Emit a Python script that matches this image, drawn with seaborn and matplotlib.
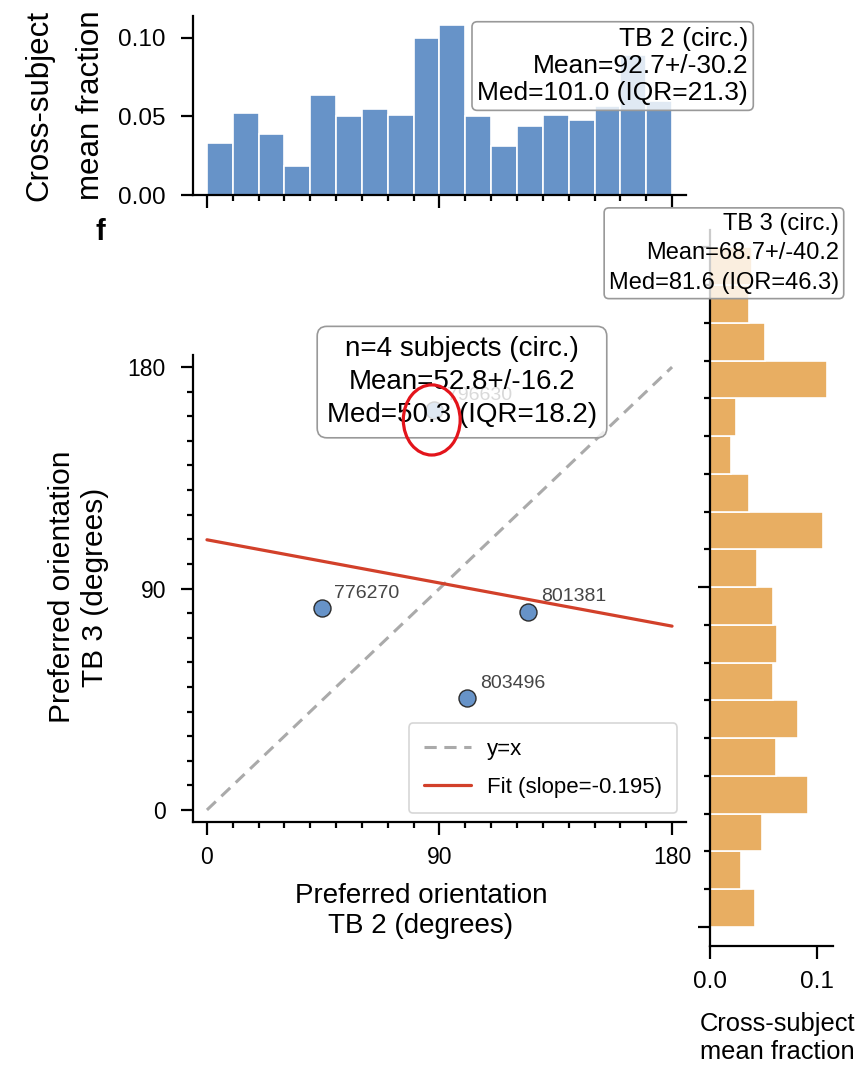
import numpy as np
import pandas as pd
import matplotlib
matplotlib.use("Agg")
import matplotlib.pyplot as plt
from matplotlib.patches import Ellipse
from matplotlib.ticker import MultipleLocator
import seaborn as sns

# Orientation bins (degrees)
bin_width = 10
bin_range = (0, 180)
bin_centers = np.arange(5, 180, bin_width)

# Cross-subject mean fraction per 10-degree bin
tb2_fraction = [0.033, 0.052, 0.039, 0.0185, 0.064, 0.050, 0.055, 0.051, 0.100,
                0.108, 0.050, 0.031, 0.044, 0.051, 0.048, 0.057, 0.089, 0.060]
tb3_fraction = [0.042, 0.029, 0.049, 0.0916, 0.062, 0.082, 0.0585, 0.0626, 0.059,
                0.044, 0.106, 0.0365, 0.020, 0.024, 0.109, 0.051, 0.0365, 0.039]

# Per-subject preferred orientations
subjects = ["776270", "796630", "801381", "803496"]
tb2_pref = [44.5, 88.0, 124.3, 100.7]
tb3_pref = [82.1, 162.5, 80.5, 45.5]

# Linear fit across subjects
fit_slope = -0.195
fit_intercept = 109.8

tb2_stats = "TB 2 (circ.)\nMean=92.7+/-30.2\nMed=101.0 (IQR=21.3)"
tb3_stats = "TB 3 (circ.)\nMean=68.7+/-40.2\nMed=81.6 (IQR=46.3)"
pair_stats = "n=4 subjects (circ.)\nMean=52.8+/-16.2\nMed=50.3 (IQR=18.2)"

BLUE = "#6793c8"
ORANGE = "#e8ae62"
RED = "#d2402a"
GRAY = "#aaaaaa"

sns.set_theme(style="ticks")
plt.rcParams["font.family"] = ["Liberation Sans", "DejaVu Sans"]
plt.rcParams.update({"text.color": "black", "axes.labelcolor": "black",
                     "xtick.color": "black", "ytick.color": "black"})

W, H = 861, 1070
fig = plt.figure(figsize=(W / 100, H / 100), dpi=100)


def px_axes(left, top, right, bottom):
    return fig.add_axes([left / W, 1 - bottom / H, (right - left) / W, (bottom - top) / H])


ax_top = px_axes(193, 16, 686, 195)
ax_sc = px_axes(193, 355, 686, 822)
ax_rt = px_axes(710, 230, 833, 946)
for a in (ax_top, ax_sc, ax_rt):
    a.set_facecolor("none")

tick_kw = dict(width=1.6, color="black", labelcolor="black")
box_kw = dict(facecolor=(1, 1, 1, 0.8), edgecolor="#999999", linewidth=1.2)

hist_df = pd.DataFrame({
    "center": bin_centers.astype(float),
    "tb2": np.asarray(tb2_fraction, dtype=float),
    "tb3": np.asarray(tb3_fraction, dtype=float),
})

# ---- top marginal histogram (TB 2) ----
sns.histplot(data=hist_df, x="center", weights="tb2", binwidth=bin_width, binrange=bin_range,
             ax=ax_top, color=BLUE, alpha=1, edgecolor="white", linewidth=1.2)
ax_top.set_xlim(-5.4, 185.4)
ax_top.set_ylim(0, 0.114)
ax_top.set_yticks([0, 0.05, 0.10])
ax_top.set_yticklabels(["0.00", "0.05", "0.10"])
ax_top.xaxis.set_major_locator(MultipleLocator(90))
ax_top.xaxis.set_minor_locator(MultipleLocator(10))
ax_top.tick_params(axis="x", which="major", length=9, labelbottom=False, **tick_kw)
ax_top.tick_params(axis="x", which="minor", length=4.5, **tick_kw)
ax_top.tick_params(axis="y", length=9, labelsize=17.5, pad=10.5, **tick_kw)
ax_top.set_ylabel("Cross-subject\nmean fraction", fontsize=22.5, linespacing=1.95)
ax_top.yaxis.set_label_coords(-0.176, 0.5)
ax_top.set_xlabel("")
ax_top.text(1.1258, 0.9385, tb2_stats, transform=ax_top.transAxes, ha="right", va="top",
            fontsize=19, multialignment="right", linespacing=1.16, clip_on=False, zorder=10,
            bbox=dict(boxstyle="round,pad=0.2", **box_kw))

# ---- scatter of preferred orientations ----
df = pd.DataFrame({"tb2": tb2_pref, "tb3": tb3_pref, "subject": subjects})
fit_x = np.array([0.0, 180.0])
ax_sc.plot([0, 180], [0, 180], color=GRAY, linestyle="--", linewidth=2.2,
           dashes=(4, 2.5), label="y=x", zorder=1)
sns.lineplot(x=fit_x, y=fit_intercept + fit_slope * fit_x, ax=ax_sc, color=RED, linewidth=2.3,
             label=f"Fit (slope={fit_slope:.3f})", zorder=2)
sns.scatterplot(data=df, x="tb2", y="tb3", ax=ax_sc, s=150, color=BLUE, edgecolor="#2b2b2b",
                linewidth=1.0, zorder=3, legend=False)
for sx, sy, name in zip(tb2_pref, tb3_pref, subjects):
    ax_sc.annotate(name, (sx, sy), xytext=(9, 7.5), textcoords="offset points",
                   ha="left", va="baseline", fontsize=14, color="#454545", zorder=3)

hidden = subjects.index("796630")
ax_sc.add_patch(Ellipse((tb2_pref[hidden] - 1, tb3_pref[hidden] - 4), 22, 28.5, fill=False,
                        edgecolor="#e3141b", linewidth=2.3, zorder=12, clip_on=False))

ax_sc.text(0.5456, 0.942, pair_stats, transform=ax_sc.transAxes, ha="center", va="center",
           fontsize=20, multialignment="center", linespacing=1.35, zorder=8, clip_on=False,
           bbox=dict(boxstyle="round,pad=0.35", **box_kw))

ax_sc.set_xlim(-5.4, 185.4)
ax_sc.set_ylim(-4.9, 184.9)
for axis in (ax_sc.xaxis, ax_sc.yaxis):
    axis.set_major_locator(MultipleLocator(90))
    axis.set_minor_locator(MultipleLocator(10))
ax_sc.tick_params(which="major", length=9, labelsize=16.5, pad=8, **tick_kw)
ax_sc.tick_params(axis="y", which="major", pad=10.5)
ax_sc.tick_params(which="minor", length=4.5, **tick_kw)
ax_sc.set_xlabel("Preferred orientation\nTB 2 (degrees)", fontsize=20, linespacing=1.2)
ax_sc.xaxis.set_label_coords(0.4625, -0.13)
ax_sc.xaxis.label.set_va("top")
ax_sc.set_ylabel("Preferred orientation\nTB 3 (degrees)", fontsize=21.5, linespacing=1.25)
ax_sc.yaxis.set_label_coords(-0.17, 0.503)
leg = ax_sc.legend(loc="lower right", handlelength=2.1,
                   handletextpad=0.7, labelspacing=0.75, borderpad=0.7, borderaxespad=0.4,
                   frameon=True, fontsize=16)
leg.get_frame().set_edgecolor("#cccccc")
leg.get_frame().set_linewidth(1.2)

# ---- right marginal histogram (TB 3) ----
sns.histplot(data=hist_df, y="center", weights="tb3", binwidth=bin_width, binrange=bin_range,
             ax=ax_rt, color=ORANGE, alpha=1, edgecolor="white", linewidth=1.2)
ax_rt.set_ylim(-5.05, 184.6)
ax_rt.set_xlim(0, 0.115)
ax_rt.set_xticks([0, 0.1])
ax_rt.set_xticklabels(["0.0", "0.1"])
ax_rt.yaxis.set_major_locator(MultipleLocator(90))
ax_rt.yaxis.set_minor_locator(MultipleLocator(10))
ax_rt.tick_params(axis="y", which="major", length=9, labelleft=False, **tick_kw)
ax_rt.tick_params(axis="y", which="minor", length=4.5, **tick_kw)
ax_rt.tick_params(axis="x", length=9, labelsize=17.5, pad=9, **tick_kw)
ax_rt.set_ylabel("")
ax_rt.set_xlabel("Cross-subject\nmean fraction", fontsize=18.4, linespacing=1.2)
ax_rt.xaxis.set_label_coords(0.545, -0.092)
ax_rt.xaxis.label.set_va("top")
ax_rt.text(1.0488, 1.0243, tb3_stats, transform=ax_rt.transAxes, ha="right", va="top",
           fontsize=17, multialignment="right", linespacing=1.45, clip_on=False, zorder=10,
           bbox=dict(boxstyle="round,pad=0.2", **box_kw))

for a in (ax_top, ax_sc, ax_rt):
    sns.despine(ax=a)
    for s in ("left", "bottom"):
        a.spines[s].set_linewidth(1.6)
        a.spines[s].set_color("black")

fig.text(100 / W, 1 - 232 / H, "f", ha="center", va="center", fontsize=21, fontweight="bold")

fig.savefig("out.png", dpi=100)
